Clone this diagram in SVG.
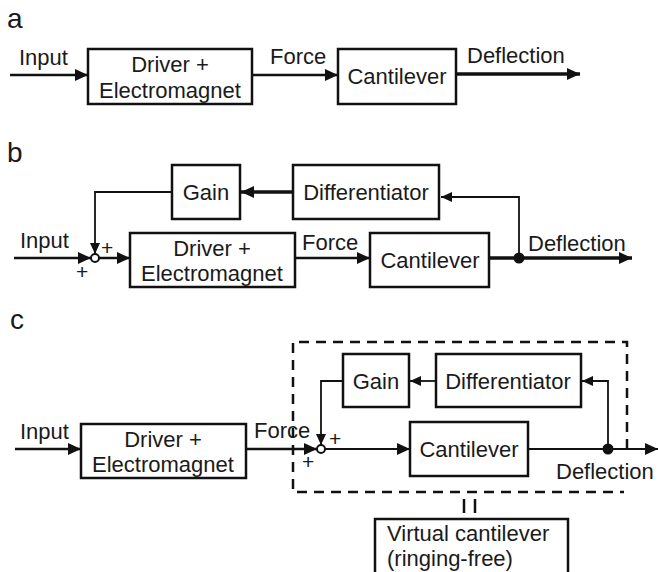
<svg xmlns="http://www.w3.org/2000/svg" width="658" height="572" viewBox="0 0 658 572">
<defs>
<marker id="ah" markerUnits="userSpaceOnUse" markerWidth="14" markerHeight="13" refX="13" refY="6" orient="auto"><path d="M0,0 L13,6 L0,12 z" fill="#111"/></marker>
<marker id="ahs" markerUnits="userSpaceOnUse" markerWidth="12" markerHeight="11" refX="11" refY="5" orient="auto"><path d="M0,0 L11,5 L0,10 z" fill="#111"/></marker>
</defs>
<style>
text{font-family:"Liberation Sans",Arial,sans-serif;font-size:22px;fill:#1a1a1a}
.lbl{font-size:28px}
.pl{font-size:21px}
.c{text-anchor:middle}
rect{fill:#fff;stroke:#111;stroke-width:2.5}
.ln{fill:none;stroke:#111;stroke-width:2.5}
.th{fill:none;stroke:#111;stroke-width:3.5}
.tn{fill:none;stroke:#111;stroke-width:1.8}
.dash{fill:none;stroke:#111;stroke-width:2.5;stroke-dasharray:10,7}
</style>

<text class="lbl" x="7" y="28">a</text>
<text class="lbl" x="7" y="162">b</text>
<text class="lbl" x="10" y="329">c</text>

<g id="connectors">
<path class="ln" d="M10,75 H88" marker-end="url(#ah)"/>
<path class="ln" d="M252,75 H338" marker-end="url(#ah)"/>
<path class="th" d="M456,74 H580" marker-end="url(#ah)"/>
<path class="ln" d="M14,258 H91" marker-end="url(#ah)"/>
<path class="ln" d="M99,258 H130" marker-end="url(#ah)"/>
<path class="ln" d="M295,258 H370" marker-end="url(#ah)"/>
<path class="th" d="M489,258 H632" marker-end="url(#ah)"/>
<path class="th" d="M293,192 H241" marker-end="url(#ah)"/>
<path class="tn" d="M519,258 V197 H441" marker-end="url(#ahs)"/>
<path class="tn" d="M172,192 H95 V254" marker-end="url(#ahs)"/>
<circle cx="95" cy="258" r="4" fill="#fff" stroke="#111" stroke-width="2"/>
<circle cx="519" cy="258" r="5.5" fill="#111"/>
<path class="ln" d="M15,449 H81" marker-end="url(#ah)"/>
<path class="ln" d="M246,449 H317" marker-end="url(#ah)"/>
<path class="tn" d="M325,449 H410" marker-end="url(#ah)"/>
<path class="tn" d="M528,449 H658" marker-end="url(#ah)"/>
<path class="tn" d="M436,381 H410" marker-end="url(#ahs)"/>
<path class="tn" d="M608,449 V381 H582" marker-end="url(#ahs)"/>
<path class="tn" d="M343,381 H321 V445" marker-end="url(#ahs)"/>
<circle cx="321" cy="449" r="4" fill="#fff" stroke="#111" stroke-width="2"/>
<circle cx="608" cy="449" r="5.5" fill="#111"/>
<path class="dash" d="M627,449 V342 H293 V492 H624"/>
<path class="ln" d="M464,499 V513 M475,499 V513"/>
</g>

<text x="19" y="65">Input</text>
<text x="270" y="64">Force</text>
<text x="467" y="63">Deflection</text>
<text x="20" y="248">Input</text>
<text x="302" y="250">Force</text>
<text x="528" y="251">Deflection</text>
<text class="pl" x="101" y="255">+</text>
<text class="pl" x="76" y="279">+</text>
<text x="20" y="439">Input</text>
<text x="254" y="438">Force</text>
<text x="556" y="479">Deflection</text>
<text class="pl" x="329" y="446">+</text>
<text class="pl" x="302" y="469">+</text>

<g id="a-driver"><rect x="88" y="49" width="164" height="55"/><text class="c" x="170" y="72">Driver +</text><text class="c" x="170" y="98">Electromagnet</text></g>
<g id="a-cantilever"><rect x="338" y="49" width="118" height="55"/><text class="c" x="397" y="84">Cantilever</text></g>

<g id="b-gain"><rect x="172" y="165" width="68" height="54"/><text class="c" x="206" y="200">Gain</text></g>
<g id="b-diff"><rect x="293" y="165" width="146" height="54"/><text class="c" x="366" y="200">Differentiator</text></g>
<g id="b-driver"><rect x="130" y="233" width="165" height="54"/><text class="c" x="212" y="256">Driver +</text><text class="c" x="212" y="281">Electromagnet</text></g>
<g id="b-cantilever"><rect x="370" y="233" width="119" height="54"/><text class="c" x="430" y="268">Cantilever</text></g>

<g id="c-gain"><rect x="343" y="354" width="66" height="53"/><text class="c" x="376" y="389">Gain</text></g>
<g id="c-diff"><rect x="436" y="354" width="145" height="53"/><text class="c" x="508" y="389">Differentiator</text></g>
<g id="c-driver"><rect x="81" y="424" width="165" height="54"/><text class="c" x="163" y="447">Driver +</text><text class="c" x="163" y="472">Electromagnet</text></g>
<g id="c-cantilever"><rect x="410" y="422" width="118" height="54"/><text class="c" x="469" y="457">Cantilever</text></g>
<g id="c-virtual"><rect x="375" y="519" width="193" height="60"/><text x="387" y="541">Virtual cantilever</text><text x="387" y="566">(ringing-free)</text></g>
</svg>
